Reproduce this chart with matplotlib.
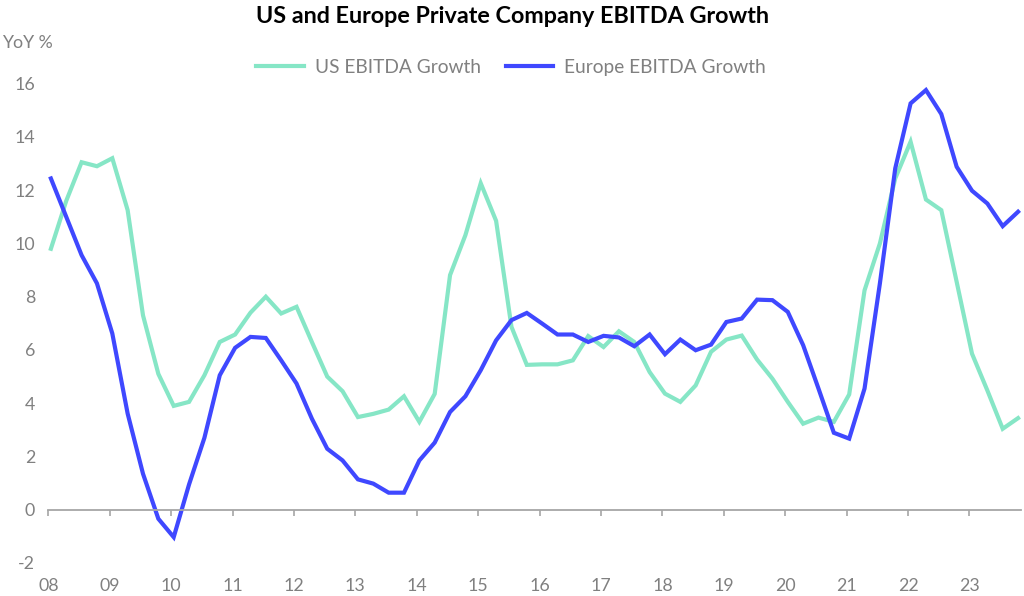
"""US and Europe private company EBITDA growth, quarterly 2008-2023."""

import matplotlib
matplotlib.use("Agg")
import matplotlib.pyplot as plt
import numpy as np

plt.rcParams["font.family"] = ["Lato", "DejaVu Sans"]
plt.rcParams["axes.unicode_minus"] = False

START_YEAR = 2008
YEARS = list(range(2008, 2024))
YEAR_LABELS = [f"{y % 100:02d}" for y in YEARS]

US_GROWTH = [
    9.8, 11.6, 13.05, 12.9, 13.2, 11.25, 7.3, 5.1,
    3.9, 4.05, 5.05, 6.3, 6.58, 7.4, 8.0, 7.37,
    7.62, 6.3, 5.0, 4.45, 3.48, 3.6, 3.76, 4.26,
    3.3, 4.35, 8.81, 10.31, 12.26, 10.85, 6.87, 5.44,
    5.46, 5.46, 5.61, 6.52, 6.11, 6.7, 6.3, 5.17,
    4.36, 4.05, 4.67, 5.93, 6.39, 6.54, 5.64, 4.92,
    4.05, 3.23, 3.46, 3.3, 4.33, 8.24, 10.0, 12.44,
    13.82, 11.65, 11.25, 8.56, 5.86, 4.48, 3.04, 3.44,
]
EUROPE_GROWTH = [
    12.44, 11.0, 9.56, 8.5, 6.62, 3.61, 1.35, -0.34,
    -1.03, 0.95, 2.7, 5.05, 6.08, 6.49, 6.45, 5.61,
    4.74, 3.42, 2.29, 1.85, 1.14, 0.98, 0.64, 0.64,
    1.85, 2.52, 3.67, 4.26, 5.24, 6.36, 7.12, 7.39,
    6.99, 6.58, 6.58, 6.3, 6.53, 6.47, 6.14, 6.58,
    5.84, 6.39, 5.99, 6.2, 7.05, 7.18, 7.89, 7.87,
    7.43, 6.18, 4.55, 2.89, 2.67, 4.55, 8.5, 12.82,
    15.26, 15.76, 14.86, 12.88, 11.98, 11.5, 10.65, 11.19,
]

US_COLOR = "#86E6C6"
EU_COLOR = "#3F48FF"
GREY_TEXT = "#808080"
AXIS_GREY = "#A6A6A6"


def main():
    fig = plt.figure(figsize=(10.24, 5.96), dpi=100)
    ax = fig.add_axes([0.0472, 0.0554, 0.9499, 0.8042])

    n = len(US_GROWTH)
    # quarterly points, drawn a little to the right of the year boundary
    x = START_YEAR + 1 / 24 + 0.25 * np.arange(n)

    ax.plot(x, US_GROWTH, color=US_COLOR, lw=3.0, label="US EBITDA Growth",
            solid_joinstyle="miter")
    ax.plot(x, EUROPE_GROWTH, color=EU_COLOR, lw=3.0, label="Europe EBITDA Growth",
            solid_joinstyle="miter")

    ax.set_xlim(2008, 2023.84)
    ax.set_ylim(-2, 16)
    ax.set_yticks(range(-2, 17, 2))
    ax.tick_params(axis="y", length=0, pad=9.5, labelsize=12.8, labelcolor=GREY_TEXT)

    for side in ("left", "right", "top"):
        ax.spines[side].set_visible(False)
    ax.spines["bottom"].set_position(("data", 0))
    ax.spines["bottom"].set_color(AXIS_GREY)
    ax.spines["bottom"].set_linewidth(1.3)
    ax.set_xticks(YEARS)
    ax.tick_params(axis="x", direction="out", length=4, width=1.2,
                   color=AXIS_GREY, labelbottom=False)

    sec = ax.secondary_xaxis("bottom")
    sec.set_xticks(YEARS, YEAR_LABELS)
    sec.spines["bottom"].set_visible(False)
    sec.tick_params(length=0, pad=11, labelsize=12.8, labelcolor=GREY_TEXT)

    fig.text(0.5, 0.973, "US and Europe Private Company EBITDA Growth",
             ha="center", va="center", fontsize=16.8, fontweight="bold",
             color="black")
    fig.text(0.002, 0.928, "YoY %", ha="left", va="center", fontsize=12.8,
             color=GREY_TEXT)

    fig.legend(loc="center", bbox_to_anchor=(0.499, 0.887), ncol=2,
               frameon=False, fontsize=13.8, labelcolor=GREY_TEXT,
               handlelength=2.5, handletextpad=0.55, columnspacing=1.3)

    fig.savefig("out.png", dpi=100)
    plt.close(fig)


if __name__ == "__main__":
    main()
